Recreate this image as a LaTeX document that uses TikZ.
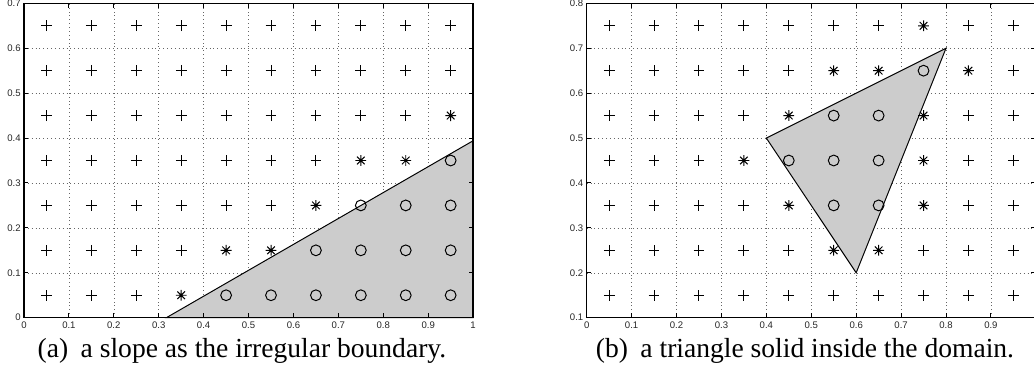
\documentclass[tikz,border=0pt]{standalone}
\usepackage{fontspec}
\setmainfont{Liberation Serif}
\setsansfont{Liberation Sans}
\usepackage{tikz}

\tikzset{
  gridline/.style={black!60, line width=0.35pt, dash pattern=on 0.45pt off 2.3pt},
  tickmark/.style={line width=0.7pt},
  axisbox/.style={line width=1.1pt},
  region/.style={fill=black!20, draw=black, line width=0.7pt},
  ticklab/.style={font=\sffamily\fontsize{6.8}{8}\selectfont, inner sep=0pt, text=black!85},
  caption/.style={font=\fontsize{19.6}{22}\selectfont, inner sep=0pt, anchor=base},
  mk/.style={line width=0.7pt},
  plusm/.pic={\draw[mk] (-1.35mm,0) -- (1.35mm,0) (0,-1.35mm) -- (0,1.35mm);},
  starm/.pic={\draw[mk] (-1.35mm,0) -- (1.35mm,0) (0,-1.35mm) -- (0,1.35mm)
    (-0.95mm,-0.95mm) -- (0.95mm,0.95mm) (-0.95mm,0.95mm) -- (0.95mm,-0.95mm);},
  circm/.pic={\draw[mk] (0,0) circle (1.35mm);}
}

\begin{document}
\begin{tikzpicture}[x=0.025cm, y=0.025cm]
\useasboundingbox (0,0) rectangle (1034,383);
\clip (0,0) rectangle (1034,383);

\begin{scope}[shift={(24,65.3)}, x=11.225cm, y=11.225cm]
\foreach \i in {1,...,9} \draw[gridline] (\i/10,0) -- (\i/10,0.7);
\foreach \j in {1,...,6} \draw[gridline] (0,\j/10) -- (1,\j/10);
\draw[region] (0.317,0) -- (1,0.394) -- (1,0) -- cycle;
\foreach \i in {0,...,10} \draw[tickmark] (\i/10,0) -- (\i/10,0.01) (\i/10,0.7) -- (\i/10,0.69);
\foreach \j in {0,...,7} \draw[tickmark] (0,\j/10) -- (0.01,\j/10) (1,\j/10) -- (0.99,\j/10);
\draw[axisbox] (0,0) rectangle (1,0.7);
\foreach \i in {0,...,10}
  \node[ticklab, anchor=north] (ax\i) at (\i/10,-0.009) {\ifnum\i=0 0\else\ifnum\i=10 1\else 0.\i\fi\fi};
\foreach \j in {0,...,7}
  \node[ticklab, anchor=east] (ay\j) at (-0.007,\j/10) {\ifnum\j=0 0\else 0.\j\fi};
\foreach \y/\row in {0.05/{p,p,p,s,o,o,o,o,o,o}, 0.15/{p,p,p,p,s,s,o,o,o,o},
    0.25/{p,p,p,p,p,p,s,o,o,o}, 0.35/{p,p,p,p,p,p,p,s,s,o}, 0.45/{p,p,p,p,p,p,p,p,p,s},
    0.55/{p,p,p,p,p,p,p,p,p,p}, 0.65/{p,p,p,p,p,p,p,p,p,p}}
  \foreach \m [count=\c from 0] in \row {
    \if\m p\pic at ({\c/10+0.05},\y) {plusm};\fi
    \if\m s\pic at ({\c/10+0.05},\y) {starm};\fi
    \if\m o\pic at ({\c/10+0.05},\y) {circm};\fi
  }
\end{scope}

\begin{scope}[shift={(586.7,20.4)}, x=11.225cm, y=11.225cm]
\foreach \i in {1,...,9} \draw[gridline] (\i/10,0.1) -- (\i/10,0.8);
\foreach \j in {2,...,7} \draw[gridline] (0,\j/10) -- (1,\j/10);
\draw[region] (0.4,0.5) -- (0.8,0.7) -- (0.6,0.2) -- cycle;
\foreach \i in {0,...,10} \draw[tickmark] (\i/10,0.1) -- (\i/10,0.11) (\i/10,0.8) -- (\i/10,0.79);
\foreach \j in {1,...,8} \draw[tickmark] (0,\j/10) -- (0.01,\j/10) (1,\j/10) -- (0.99,\j/10);
\draw[axisbox] (0,0.1) rectangle (1,0.8);
\foreach \i in {0,...,9}
  \node[ticklab, anchor=north] (bx\i) at (\i/10,0.091) {\ifnum\i=0 0\else 0.\i\fi};
\foreach \j in {1,...,8}
  \node[ticklab, anchor=east] (by\j) at (-0.007,\j/10) {0.\j};
\foreach \y/\row in {0.15/{p,p,p,p,p,p,p,p,p,p}, 0.25/{p,p,p,p,p,s,s,p,p,p},
    0.35/{p,p,p,p,s,o,o,s,p,p}, 0.45/{p,p,p,s,o,o,o,s,p,p}, 0.55/{p,p,p,p,s,o,o,s,p,p},
    0.65/{p,p,p,p,p,s,s,o,s,p}, 0.75/{p,p,p,p,p,p,p,s,p,p}}
  \foreach \m [count=\c from 0] in \row {
    \if\m p\pic at ({\c/10+0.05},\y) {plusm};\fi
    \if\m s\pic at ({\c/10+0.05},\y) {starm};\fi
    \if\m o\pic at ({\c/10+0.05},\y) {circm};\fi
  }
\end{scope}

\node[caption] (capa) at (242,25.7) {(a)\hspace{.45em}a slope as the irregular boundary.};
\node[caption] (capb) at (805,25.7) {(b)\hspace{.45em}a triangle solid inside the domain.};
\end{tikzpicture}
\end{document}
